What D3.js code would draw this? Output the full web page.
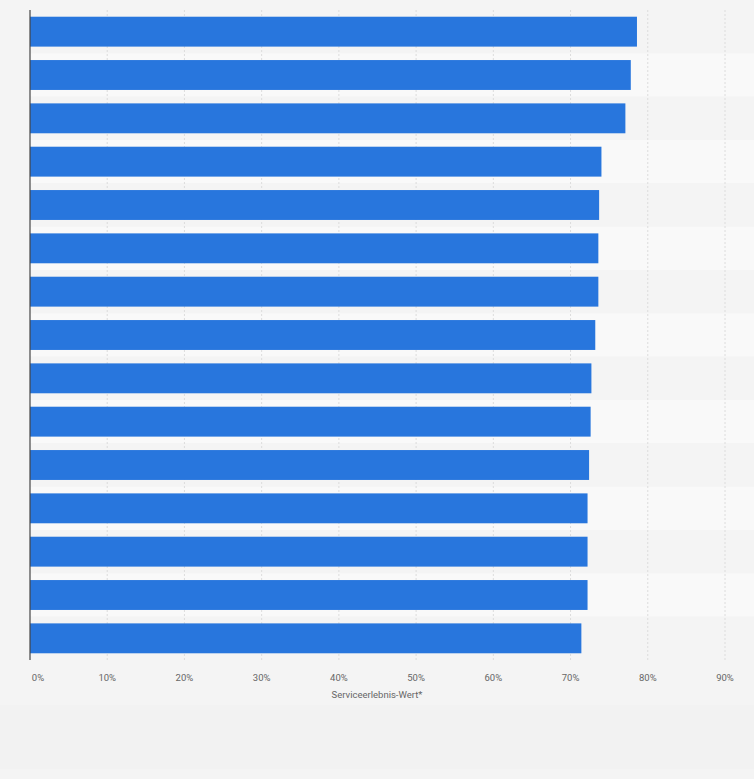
<!DOCTYPE html>
<html>
<head>
<meta charset="utf-8">
<script src="https://cdn.jsdelivr.net/npm/d3@7"></script>
<style>
  body { margin: 0; background: #f4f4f4; }
</style>
</head>
<body>
<svg id="chart" width="754" height="779"></svg>
<script>
// values (percent)
var values = [78.6, 77.8, 77.1, 74.0, 73.7, 73.6, 73.6, 73.2, 72.7, 72.6, 72.4, 72.2, 72.2, 72.2, 71.4];
var rows = values.map(function(d, i) { return 'r' + i; });
var ticks = [0, 10, 20, 30, 40, 50, 60, 70, 80, 90];

var svg = d3.select('#chart');
var plotLeft = 30, plotRight = 725, plotTop = 10, plotBottom = 660;

var x = d3.scaleLinear().domain([0, 90]).range([plotLeft, plotRight]);
var y = d3.scaleBand().domain(rows).range([plotTop, plotBottom]).paddingInner(0.31).paddingOuter(0.155);
var band = d3.scaleBand().domain(rows).range([plotTop, plotBottom]);

// lower panel
svg.append('rect').attr('x', 0).attr('y', 705).attr('width', 754).attr('height', 64).attr('fill', '#f2f2f2');

// alternating row bands
svg.selectAll('.band').data(rows).enter().append('rect')
    .attr('class', 'band')
    .attr('x', plotLeft).attr('width', 754 - plotLeft)
    .attr('y', function(d) { return band(d); })
    .attr('height', band.bandwidth())
    .attr('fill', function(d, i) { return i % 2 ? '#f9f9f9' : '#f4f4f4'; });

// grid
svg.selectAll('.grid').data(ticks.slice(1)).enter().append('line')
    .attr('class', 'grid')
    .attr('x1', function(d) { return x(d); }).attr('x2', function(d) { return x(d); })
    .attr('y1', plotTop).attr('y2', plotBottom)
    .attr('stroke', '#dcdcdc').attr('stroke-dasharray', '2,2');

// bars
svg.selectAll('.bar').data(values).enter().append('rect')
    .attr('class', 'bar')
    .attr('x', x(0))
    .attr('y', function(d, i) { return y(rows[i]); })
    .attr('height', y.bandwidth())
    .attr('width', function(d) { return x(d) - x(0); })
    .attr('fill', '#2876dd');

// axis line
svg.append('line').attr('x1', plotLeft).attr('x2', plotLeft).attr('y1', plotTop).attr('y2', plotBottom)
    .attr('stroke', '#444').attr('stroke-width', 1.2);

// tick labels
svg.selectAll('.tick').data(ticks).enter().append('text')
    .attr('class', 'tick')
    .attr('x', function(d) { return x(d) + (d === 0 ? 8 : 0); })
    .attr('y', 681)
    .attr('text-anchor', 'middle')
    .attr('font-family', 'Roboto, sans-serif').attr('font-size', 9.5).attr('fill', '#666')
    .text(function(d) { return d + '%'; });

svg.append('text').attr('x', 377).attr('y', 698).attr('text-anchor', 'middle')
    .attr('font-family', 'Roboto, sans-serif').attr('font-size', 9.5).attr('fill', '#666')
    .text('Serviceerlebnis-Wert*');
</script>
</body>
</html>
